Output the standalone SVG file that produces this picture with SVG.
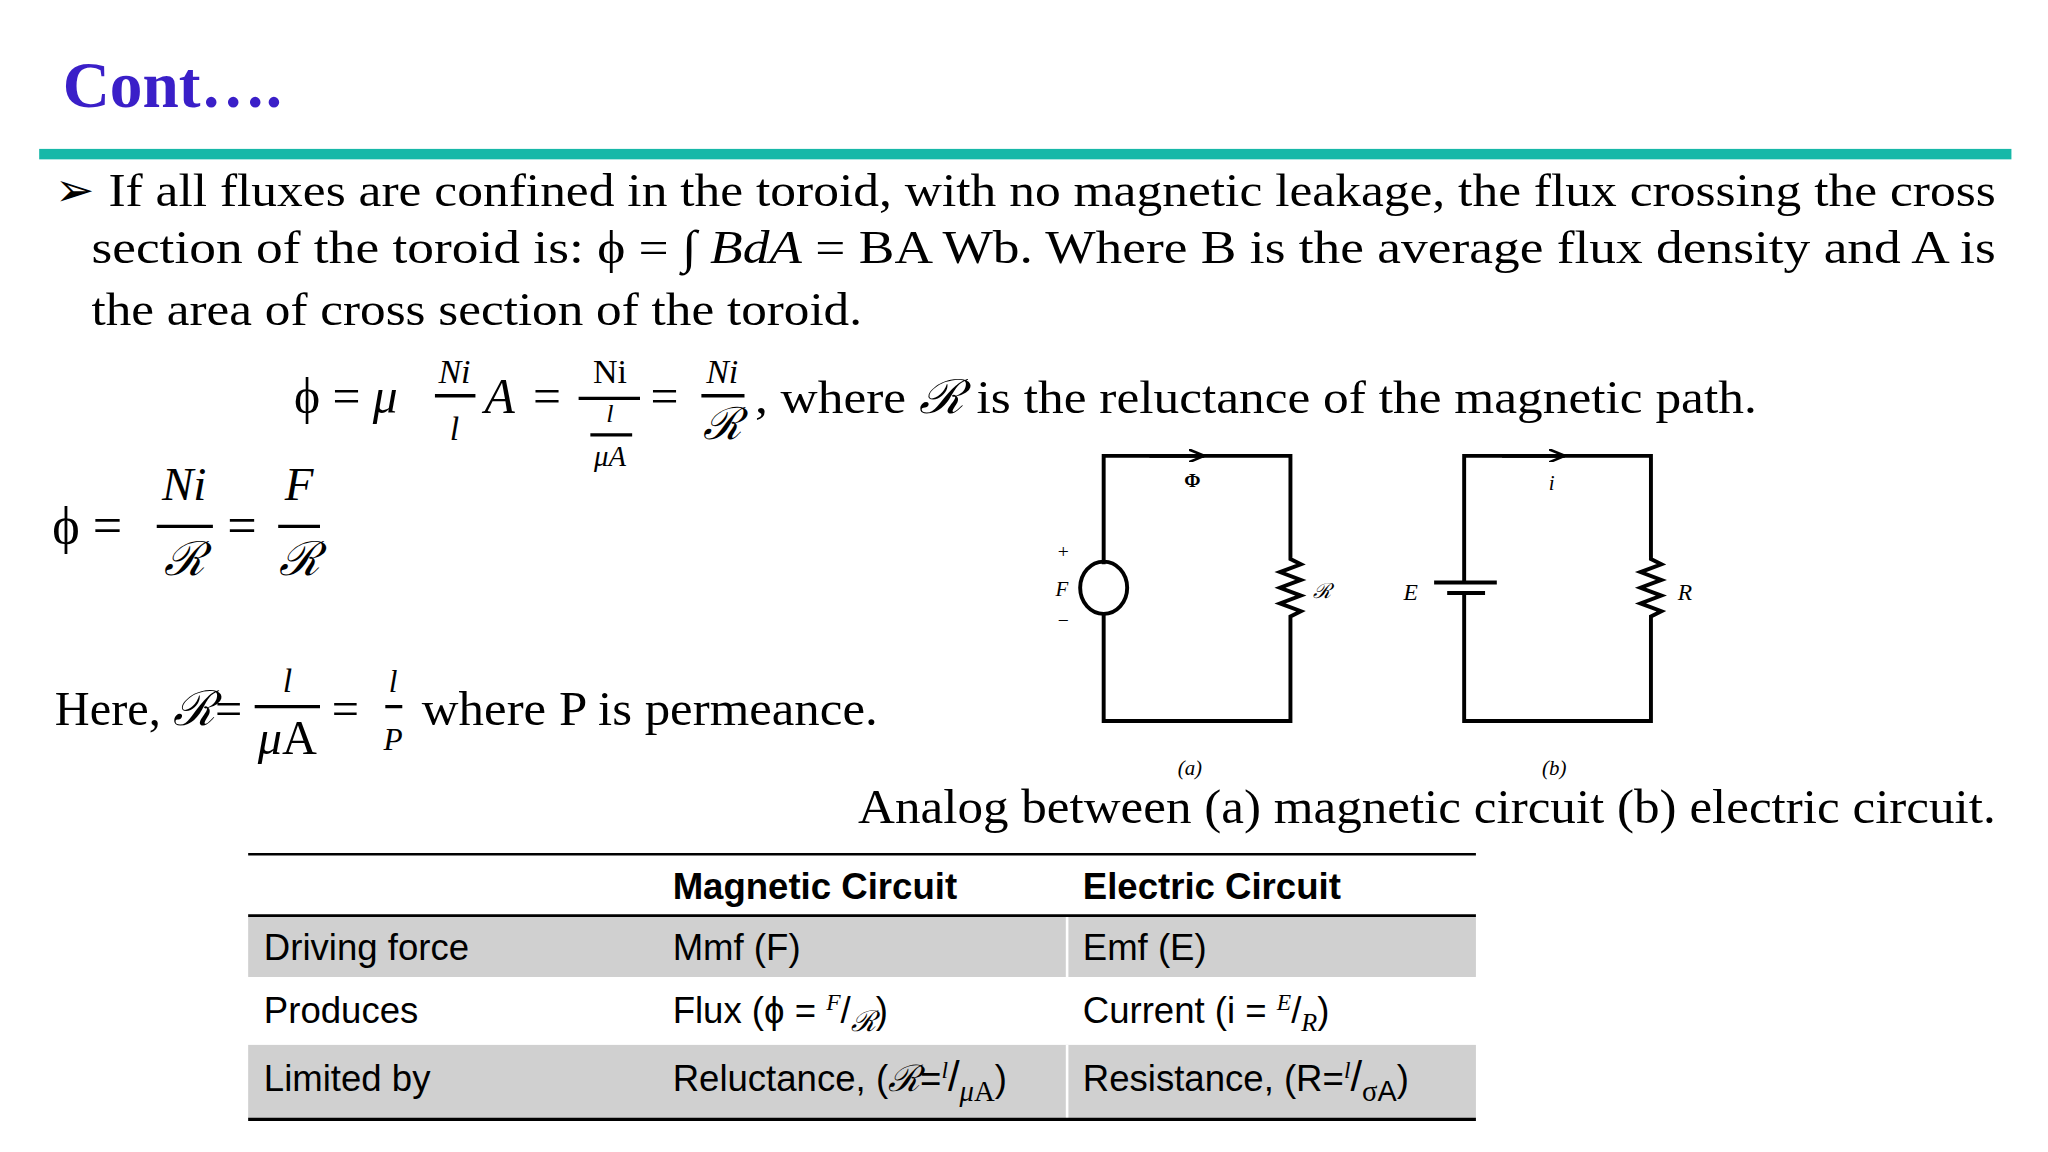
<svg xmlns="http://www.w3.org/2000/svg" width="2048" height="1152" viewBox="0 0 2048 1152">
<style>
.t{font-family:"Liberation Serif",serif;fill:#000}
.i{font-style:italic}
.s{font-family:"Liberation Sans",sans-serif;fill:#000;font-size:28px}
.w{stroke:#000;stroke-width:3;fill:none}
.bar{stroke:#000;stroke-width:2.5}
</style>
<defs>
<marker id="ah" markerWidth="14" markerHeight="10" refX="12" refY="5" orient="auto" markerUnits="userSpaceOnUse"><path d="M0,0 L12,5 L0,10" fill="none" stroke="#000" stroke-width="2"/></marker>
</defs>
<rect width="2048" height="1152" fill="#fff"/>
<g transform="scale(1.30612)">
<g id="title"><text x="48" y="82" class="t" font-size="50" font-weight="bold" fill="#3A1FC8" style="fill:#3A1FC8">Cont….</text>
<rect x="30" y="114" width="1510" height="8" fill="#17B8A8"/></g>
<g id="bullet" class="t" font-size="36">
<text x="42" y="158" class="t" font-size="36">➢</text>
<text x="83" y="158" class="t" font-size="36" textLength="1445" lengthAdjust="spacingAndGlyphs">If all fluxes are confined in the toroid, with no magnetic leakage, the flux crossing the cross</text>
<text x="70" y="201" class="t" font-size="36" textLength="1458" lengthAdjust="spacingAndGlyphs">section of the toroid is: ϕ = ∫ <tspan class="i">BdA</tspan> = BA Wb. Where B is the average flux density and A is</text>
<text x="70" y="249" class="t" font-size="36" textLength="590" lengthAdjust="spacingAndGlyphs">the area of cross section of the toroid.</text>
</g>
<g id="eq1" class="t">
<text x="225" y="316" class="t" font-size="38">ϕ = <tspan class="i">μ</tspan></text>
<text x="348" y="293" class="t i" font-size="26" text-anchor="middle">Ni</text>
<line x1="333" y1="303" x2="364" y2="303" class="bar"/>
<text x="348" y="337" class="t i" font-size="26" text-anchor="middle">l</text>
<text x="371" y="316" class="t i" font-size="38">A</text>
<text x="408" y="316" class="t" font-size="38">=</text>
<text x="467" y="293" class="t" font-size="26" text-anchor="middle">Ni</text>
<line x1="443" y1="305" x2="490" y2="305" class="bar"/>
<text x="467" y="323" class="t i" font-size="20" text-anchor="middle">l</text>
<line x1="452" y1="333" x2="484" y2="333" class="bar"/>
<text x="467" y="357" class="t i" font-size="22" text-anchor="middle">μA</text>
<text x="498" y="316" class="t" font-size="38">=</text>
<text x="553" y="293" class="t i" font-size="26" text-anchor="middle">Ni</text>
<line x1="537" y1="303" x2="570" y2="303" class="bar"/>
<text x="553" y="336" class="t i" font-size="34" text-anchor="middle">ℛ</text>
<text x="578" y="316" class="t" font-size="36" textLength="767" lengthAdjust="spacingAndGlyphs">, where <tspan class="i">ℛ</tspan> is the reluctance of the magnetic path.</text>
</g>
<g id="eq2" class="t">
<text x="40" y="416" class="t" font-size="40">ϕ =</text>
<text x="141" y="383" class="t i" font-size="36" text-anchor="middle">Ni</text>
<line x1="120" y1="403" x2="163" y2="403" class="bar"/>
<text x="141" y="440" class="t i" font-size="36" text-anchor="middle">ℛ</text>
<text x="174" y="416" class="t" font-size="40">=</text>
<text x="229" y="383" class="t i" font-size="36" text-anchor="middle">F</text>
<line x1="213" y1="403" x2="245" y2="403" class="bar"/>
<text x="229" y="440" class="t i" font-size="36" text-anchor="middle">ℛ</text>
</g>
<g id="eq3" class="t">
<text x="42" y="555" class="t" font-size="37">Here, <tspan class="i">ℛ</tspan>=</text>
<text x="220" y="530" class="t i" font-size="26" text-anchor="middle">l</text>
<line x1="195" y1="541" x2="245" y2="541" class="bar"/>
<text x="220" y="577" class="t" font-size="37" text-anchor="middle"><tspan class="i">μ</tspan>A</text>
<text x="254" y="555" class="t" font-size="37">=</text>
<text x="301" y="530" class="t i" font-size="24" text-anchor="middle">l</text>
<line x1="295" y1="541" x2="308" y2="541" class="bar"/>
<text x="301" y="574" class="t i" font-size="24" text-anchor="middle">P</text>
<text x="323" y="555" class="t" font-size="37" textLength="349" lengthAdjust="spacingAndGlyphs">where P is permeance.</text>
</g>
<g id="circuitA">
<path d="M845,432 V349 H988 V428 l8,4 l-16,6 l16,6 l-16,6 l16,6 l-16,6 l16,6 l-8,4 V552 H845 V469" class="w"/>
<line x1="880" y1="349" x2="922" y2="349" class="w" marker-end="url(#ah)"/>
<ellipse cx="845" cy="450" rx="18" ry="20" class="w"/>
<text x="913" y="373" class="t" font-size="15" font-weight="bold" text-anchor="middle">Φ</text>
<text x="1005" y="458" class="t i" font-size="16">ℛ</text>
<text x="814" y="427" class="t" font-size="15" text-anchor="middle">+</text>
<text x="813" y="456" class="t i" font-size="16" text-anchor="middle">F</text>
<text x="814" y="480" class="t" font-size="15" text-anchor="middle">−</text>
<text x="911" y="593" class="t i" font-size="16" text-anchor="middle">(a)</text>
</g>
<g id="circuitB">
<path d="M1121,446 V349 H1264 V428 l8,4 l-16,6 l16,6 l-16,6 l16,6 l-16,6 l16,6 l-8,4 V552 H1121 V454" class="w"/>
<line x1="1150" y1="349" x2="1198" y2="349" class="w" marker-end="url(#ah)"/>
<line x1="1098" y1="446" x2="1146" y2="446" class="w"/>
<line x1="1108" y1="454" x2="1137" y2="454" class="w"/>
<text x="1188" y="375" class="t i" font-size="16" text-anchor="middle">i</text>
<text x="1080" y="459" class="t i" font-size="18" text-anchor="middle">E</text>
<text x="1290" y="459" class="t i" font-size="18" text-anchor="middle">R</text>
<text x="1190" y="593" class="t i" font-size="16" text-anchor="middle">(b)</text>
</g>
<text x="657" y="630" class="t" font-size="37" textLength="871" lengthAdjust="spacingAndGlyphs">Analog between (a) magnetic circuit (b) electric circuit.</text>
<g id="table">
<rect x="190" y="701" width="940" height="47" fill="#d0d0d0"/>
<rect x="190" y="800" width="940" height="57" fill="#d0d0d0"/>
<line x1="817" y1="701" x2="817" y2="748" stroke="#fff" stroke-width="2"/>
<line x1="817" y1="800" x2="817" y2="857" stroke="#fff" stroke-width="2"/>
<line x1="190" y1="654" x2="1130" y2="654" stroke="#000" stroke-width="2"/>
<line x1="190" y1="701" x2="1130" y2="701" stroke="#000" stroke-width="2"/>
<line x1="190" y1="857" x2="1130" y2="857" stroke="#000" stroke-width="2.5"/>
<text x="515" y="688" class="s" font-weight="bold">Magnetic Circuit</text>
<text x="829" y="688" class="s" font-weight="bold">Electric Circuit</text>
<text x="202" y="735" class="s">Driving force</text>
<text x="515" y="735" class="s">Mmf (F)</text>
<text x="829" y="735" class="s">Emf (E)</text>
<text x="202" y="783" class="s">Produces</text>
<text x="515" y="783" class="s">Flux (ϕ = <tspan class="i" font-family="Liberation Serif" font-size="18" dy="-10">F</tspan><tspan dy="10">/</tspan><tspan class="i" font-family="Liberation Serif" font-size="22" dy="6">ℛ</tspan><tspan dy="-6">)</tspan></text>
<text x="829" y="783" class="s">Current (i = <tspan class="i" font-family="Liberation Serif" font-size="18" dy="-10">E</tspan><tspan dy="10">/</tspan><tspan class="i" font-family="Liberation Serif" font-size="20" dy="6">R</tspan><tspan dy="-6">)</tspan></text>
<text x="202" y="835" class="s">Limited by</text>
<text x="515" y="835" class="s">Reluctance, (<tspan class="i" font-family="Liberation Serif">ℛ</tspan>=<tspan class="i" font-family="Liberation Serif" font-size="18" dy="-10">l</tspan><tspan dy="10" font-size="32">/</tspan><tspan font-family="Liberation Serif" font-size="22" dy="8"><tspan class="i">μ</tspan>A</tspan><tspan dy="-8">)</tspan></text>
<text x="829" y="835" class="s">Resistance, (R=<tspan class="i" font-family="Liberation Serif" font-size="18" dy="-10">l</tspan><tspan dy="10" font-size="32">/</tspan><tspan font-size="22" dy="8"><tspan font-family="Liberation Serif">σ</tspan>A</tspan><tspan dy="-8">)</tspan></text>
</g>
</g>
</svg>
